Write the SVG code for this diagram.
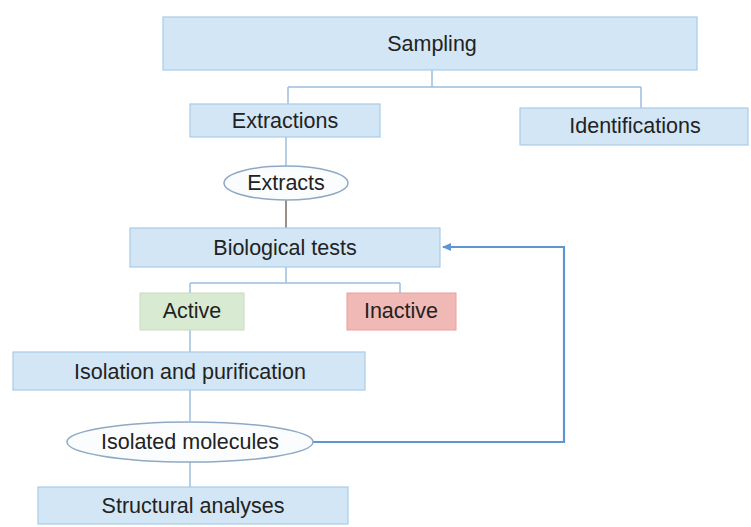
<svg xmlns="http://www.w3.org/2000/svg" width="751" height="527" viewBox="0 0 751 527">
<defs>
<style>
.box{fill:#d3e6f5;stroke:#a8cbe6;stroke-width:1.2}
.ell{fill:#fbfcfd;stroke:#8fa9c4;stroke-width:1.5}
.act{fill:#d8ead2;stroke:#c5dcbd;stroke-width:1}
.ina{fill:#f0b9b5;stroke:#e7a29e;stroke-width:1}
.t{font-family:"Liberation Sans",Arial,sans-serif;font-size:21.5px;fill:#222;text-anchor:middle;dominant-baseline:central}
.ln{fill:none;stroke:#9cbfe0;stroke-width:1.5}
.fb{fill:none;stroke:#5f95d2;stroke-width:2.2}
</style>
<marker id="ah" markerWidth="10" markerHeight="10" refX="8" refY="5" orient="auto" markerUnits="userSpaceOnUse">
<path d="M0,1 L9,5 L0,9 Z" fill="#5f95d2"/>
</marker>
</defs>
<rect width="751" height="527" fill="#ffffff"/>
<g id="connectors">
<path class="ln" d="M432,70 V87 M288,87 H641 M288,87 V104 M641,87 V108"/>
<path class="ln" d="M286,137 V166"/>
<path class="ln" d="M286,200 V228" style="stroke:#7a6a66"/>
<path class="ln" d="M286,267 V283 M190,283 H400 M190,283 V293 M400,283 V293"/>
<path class="ln" d="M190,330 V352"/>
<path class="ln" d="M190,390 V421"/>
<path class="ln" d="M190,462 V487"/>
<path class="fb" d="M313,442 H564 V247 H443" marker-end="url(#ah)"/>
</g>
<g id="sampling"><rect class="box" x="163" y="17" width="534" height="53"/><text class="t" x="432" y="44">Sampling</text></g>
<g id="extractions"><rect class="box" x="190" y="104" width="190" height="33"/><text class="t" x="285" y="121">Extractions</text></g>
<g id="identifications"><rect class="box" x="520" y="108" width="228" height="37"/><text class="t" x="635" y="126">Identifications</text></g>
<g id="extracts"><ellipse class="ell" cx="286" cy="183" rx="62" ry="17"/><text class="t" x="286" y="183">Extracts</text></g>
<g id="biological-tests"><rect class="box" x="130" y="228" width="310" height="39"/><text class="t" x="285" y="248">Biological tests</text></g>
<g id="active"><rect class="act" x="140" y="293" width="104" height="37"/><text class="t" x="192" y="311">Active</text></g>
<g id="inactive"><rect class="ina" x="347" y="293" width="109" height="37"/><text class="t" x="401" y="311">Inactive</text></g>
<g id="isolation"><rect class="box" x="13" y="352" width="352" height="38"/><text class="t" x="190" y="372">Isolation and purification</text></g>
<g id="isolated-molecules"><ellipse class="ell" cx="190" cy="442" rx="123" ry="20"/><text class="t" x="190" y="442">Isolated molecules</text></g>
<g id="structural"><rect class="box" x="38" y="487" width="310" height="37"/><text class="t" x="193" y="506">Structural analyses</text></g>
</svg>
